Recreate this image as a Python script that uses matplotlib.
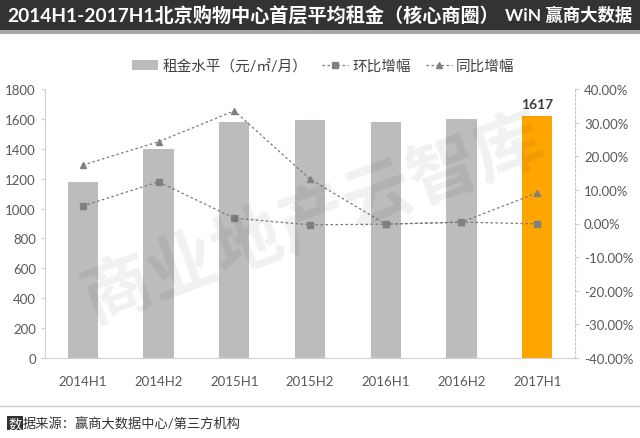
import numpy as np
import matplotlib.pyplot as plt
from matplotlib.patches import Rectangle
from matplotlib.lines import Line2D

plt.rcParams['font.family'] = ['Lato', 'Noto Sans CJK SC', 'DejaVu Sans']

# data
periods = ['2014H1', '2014H2', '2015H1', '2015H2', '2016H1', '2016H2', '2017H1']
rent = [1180, 1400, 1580, 1590, 1582, 1600, 1617]
mom = [5.2, 12.4, 1.6, -0.4, -0.2, 0.4, -0.1]   # 环比增幅 (%)
yoy = [17.4, 24.3, 33.5, 13.2, -0.2, 0.4, 9.1]  # 同比增幅 (%)

bar_grey = '#bdbbbe'
bar_orange = '#ffa500'
line_col = '#7a7a7a'
text_col = '#595959'

fig = plt.figure(figsize=(6.4, 4.39), dpi=100)
fig.patch.set_facecolor('white')

# title band
fig.patches.append(Rectangle((0, 1 - 31/439), 1, 31/439, transform=fig.transFigure,
                             facecolor='#333333', edgecolor='none', zorder=0))
fig.patches.append(Rectangle((0, 1 - 35/439), 1, 4/439, transform=fig.transFigure,
                             facecolor='#a8a8a8', edgecolor='none', zorder=0))
fig.text(0.012, 1 - 15/439, '2014H1-2017H1北京购物中心首层平均租金（核心商圈）',
         color='white', fontsize=13.8, fontweight='bold', va='center', ha='left')
fig.text(0.988, 1 - 15/439, 'WiN 赢商大数据', color='white', fontsize=12.5,
         fontweight='bold', va='center', ha='right')

ax = fig.add_axes([45/640, 1 - 359/439, 530/640, 269/439])
x = np.arange(len(periods))
colors = [bar_grey] * (len(periods) - 1) + [bar_orange]
ax.bar(x, rent, width=0.4, color=colors, zorder=2)
ax.text(x[-1], rent[-1] + 40, str(rent[-1]), ha='center', va='bottom',
        fontsize=10, fontweight='bold', color='#404040')

ax.set_xlim(-0.5, len(periods) - 0.5)
ax.set_ylim(0, 1800)
ax.set_yticks(np.arange(0, 1801, 200))
ax.set_xticks(x)
ax.set_xticklabels(periods)
ax.tick_params(axis='y', labelsize=9.5, colors=text_col, length=3, color='#d0d0d0')
ax.tick_params(axis='x', labelsize=9.5, colors=text_col, length=0, pad=12)
for s in ['top', 'right']:
    ax.spines[s].set_visible(False)
ax.spines['left'].set_color('#d0d0d0')
ax.spines['bottom'].set_color('#d0d0d0')

ax2 = ax.twinx()
ax2.plot(x, mom, linestyle=(0, (2, 2)), color=line_col, linewidth=0.9,
         marker='s', markersize=4.5, markerfacecolor='#808080',
         markeredgecolor='#808080', zorder=3)
ax2.plot(x, yoy, linestyle=(0, (2, 2)), color=line_col, linewidth=0.9,
         marker='^', markersize=5, markerfacecolor='#808080',
         markeredgecolor='#808080', zorder=3)
ax2.set_ylim(-40, 40)
ax2.set_yticks(np.arange(-40, 41, 10))
ax2.set_yticklabels(['%.2f%%' % v for v in np.arange(-40, 41, 10)])
ax2.tick_params(axis='y', labelsize=9.5, colors=text_col, length=3, color='#d0d0d0')
for s in ['top', 'left', 'bottom']:
    ax2.spines[s].set_visible(False)
ax2.spines['right'].set_color('#c8c8c8')
ax2.spines['right'].set_linestyle((0, (2, 2)))

# legend
handles = [
    Rectangle((0, 0), 1, 1, facecolor=bar_grey, edgecolor='none'),
    Line2D([], [], linestyle=(0, (2, 2)), color=line_col, linewidth=0.9, marker='s',
           markersize=4, markerfacecolor='#808080', markeredgecolor='#808080'),
    Line2D([], [], linestyle=(0, (2, 2)), color=line_col, linewidth=0.9, marker='^',
           markersize=4, markerfacecolor='#808080', markeredgecolor='#808080'),
]
labels = ['租金水平（元/㎡/月）', '环比增幅', '同比增幅']
fig.legend(handles, labels, loc='center', bbox_to_anchor=(0.505, 1 - 67/439),
           ncol=3, frameon=False, fontsize=10.5, handlelength=1.8,
           columnspacing=1.0, handletextpad=0.3, labelcolor='#404040')

# watermark
fig.text(0.49, 0.5, '商业地产云智库', fontsize=50, fontweight='bold', color='black',
         alpha=0.06, rotation=20, ha='center', va='center', zorder=5)

# footer
fig.add_artist(Line2D([0, 1], [1 - 407/439, 1 - 407/439], color='#cccccc',
                      linewidth=1, transform=fig.transFigure))
fig.text(0.013, 1 - 424/439, '数', fontsize=9.5, color='white', va='center', ha='left',
         bbox=dict(boxstyle='square,pad=0.08', facecolor='#333333', edgecolor='none'))
fig.text(0.035, 1 - 424/439, '据来源：赢商大数据中心/第三方机构', fontsize=9.5,
         color='#333333', va='center', ha='left')

fig.savefig('out.png', dpi=100)
